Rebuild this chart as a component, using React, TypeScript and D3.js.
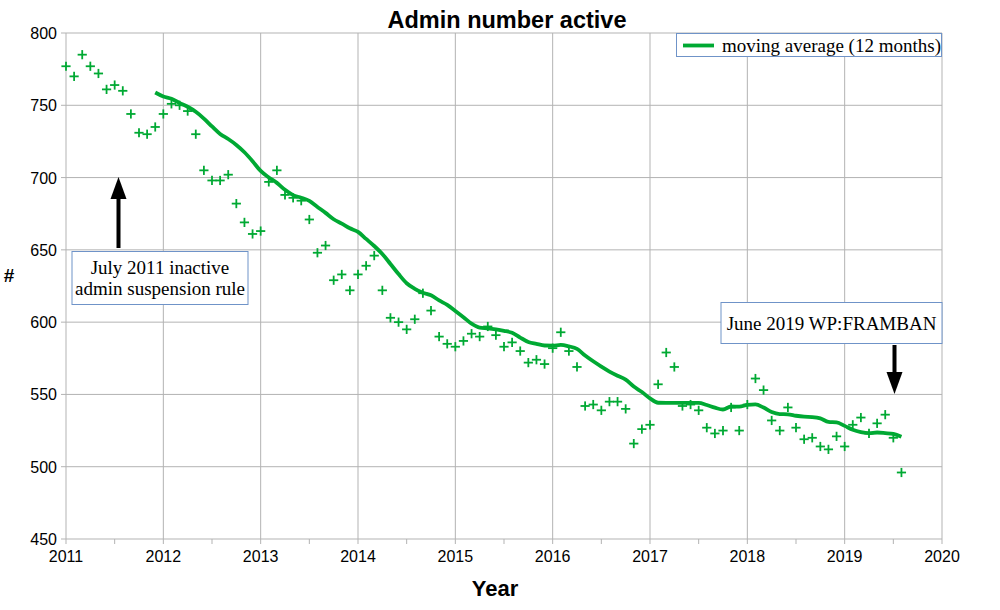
import React from "react";
import * as d3 from "d3";

const chartTitle = "Admin number active";
const xAxisTitle = "Year";
const yAxisTitle = "#";
const legendLabel = "moving average (12 months)";
const firstYear = 2011;
const xTickYears = [2011, 2012, 2013, 2014, 2015, 2016, 2017, 2018, 2019, 2020];
const yTickValues = [450, 500, 550, 600, 650, 700, 750, 800];
const movingWindow = 12;

// monthly active admin counts, Jan 2011 .. Aug 2019
const adminCounts = [
  777, 770, 785, 777, 772, 761, 764, 760, 744, 731, 730, 735,
  744, 751, 750, 746, 730, 705, 698, 698, 702, 682, 669, 661,
  663, 697, 705, 688, 686, 684, 671, 648, 653, 629, 633, 622,
  633, 639, 646, 622, 603, 600, 595, 602, 620, 608, 590, 585,
  583, 587, 592, 590, 597, 591, 583, 586, 580, 572, 574, 571,
  582, 593, 580, 569, 542, 543, 539, 545, 545, 540, 516, 526,
  529, 557, 579, 569, 542, 543, 539, 527, 523, 525, 541, 525,
  543, 561, 553, 532, 525, 541, 527, 519, 520, 514, 512, 521,
  514, 529, 534, 523, 530, 536, 520, 496,
];

const annotation1Lines = ["July 2011 inactive", "admin suspension rule"];
const annotation2Text = "June 2019 WP:FRAMBAN";

const GREEN = "#00a933";
const GRID = "#b3b3b3";
const BOX = "#6f93c8";

export default function App() {
  const W = 1000;
  const H = 610;
  const left = 66, right = 942, top = 33, bottom = 539;

  const x = d3.scaleLinear().domain([2011, 2020]).range([left, right]);
  const y = d3.scaleLinear().domain([450, 800]).range([bottom, top]);

  const points = adminCounts.map((v, i) => ({ t: firstYear + i / 12, v }));
  const avg = points
    .map((p, i) =>
      i >= movingWindow - 1
        ? { t: p.t, v: d3.mean(adminCounts.slice(i - movingWindow + 1, i + 1)) as number }
        : null
    )
    .filter((d): d is { t: number; v: number } => d !== null);

  const line = d3
    .line<{ t: number; v: number }>()
    .x((d) => x(d.t))
    .y((d) => y(d.v))
    .curve(d3.curveMonotoneX);

  const halfYears = d3.range(2011, 2020.01, 0.5);
  const arm = 4.6;

  const sans = "'Liberation Sans', Arial, sans-serif";
  const serif = "'Liberation Serif', 'Times New Roman', serif";

  // annotation arrows
  const a1x = 118.5;
  const a2x = 894.5;

  return (
    <svg
      width={W}
      height={H}
      style={{ position: "absolute", left: 0, top: 0, background: "#fff" }}
    >
      <rect x={0} y={0} width={W} height={H} fill="#fff" />
      {/* grid */}
      {yTickValues.map((v) => (
        <line key={"gy" + v} x1={left} x2={right} y1={y(v)} y2={y(v)} stroke={GRID} strokeWidth={1} />
      ))}
      {xTickYears.map((yr) => (
        <line key={"gx" + yr} x1={x(yr)} x2={x(yr)} y1={top} y2={bottom} stroke={GRID} strokeWidth={1} />
      ))}
      {/* axes ticks */}
      {yTickValues.map((v) => (
        <line key={"ty" + v} x1={left - 5} x2={left} y1={y(v)} y2={y(v)} stroke={GRID} strokeWidth={1} />
      ))}
      {halfYears.map((t) => (
        <line key={"tx" + t} x1={x(t)} x2={x(t)} y1={bottom} y2={bottom + 5} stroke={GRID} strokeWidth={1} />
      ))}
      {/* tick labels */}
      {yTickValues.map((v) => (
        <text key={"ly" + v} x={57} y={y(v) + 6} textAnchor="end" fontFamily={sans} fontSize={16} fill="#000">
          {v}
        </text>
      ))}
      {xTickYears.map((yr) => (
        <text key={"lx" + yr} x={x(yr)} y={562} textAnchor="middle" fontFamily={sans} fontSize={16} fill="#000">
          {yr}
        </text>
      ))}

      {/* data points */}
      {points.map((p, i) => (
        <g key={"p" + i} stroke={GREEN} strokeWidth={1.8}>
          <line x1={x(p.t) - arm} x2={x(p.t) + arm} y1={y(p.v)} y2={y(p.v)} />
          <line x1={x(p.t)} x2={x(p.t)} y1={y(p.v) - arm} y2={y(p.v) + arm} />
        </g>
      ))}
      {/* moving average */}
      <path d={line(avg) || ""} fill="none" stroke={GREEN} strokeWidth={3.8} strokeLinejoin="round" strokeLinecap="butt" />

      {/* annotation 1 */}
      <rect x={a1x - 2} y={198} width={4} height={50} fill="#000" />
      <path d={`M${a1x - 8},${199} L${a1x + 8},${199} L${a1x},${177} Z`} fill="#000" />
      <rect x={72} y={251.5} width={176} height={53} fill="#fff" stroke={BOX} strokeWidth={1} />
      {annotation1Lines.map((s, i) => (
        <text key={"a1" + i} x={160} y={273.5 + i * 21.5} textAnchor="middle" fontFamily={serif} fontSize={19} fill="#000">
          {s}
        </text>
      ))}

      {/* annotation 2 */}
      <rect x={721} y={302.5} width={221} height={41} fill="#fff" stroke={BOX} strokeWidth={1} />
      <text x={831.5} y={330} textAnchor="middle" fontFamily={serif} fontSize={19} fill="#000">
        {annotation2Text}
      </text>
      <rect x={a2x - 2} y={345} width={4} height={28} fill="#000" />
      <path d={`M${a2x - 8},${372} L${a2x + 8},${372} L${a2x},${394} Z`} fill="#000" />

      {/* legend */}
      <rect x={676.5} y={33.5} width={265} height={23} fill="#fff" stroke={BOX} strokeWidth={1} />
      <line x1={683} x2={714} y1={45.5} y2={45.5} stroke={GREEN} strokeWidth={3.8} />
      <text x={722} y={51.5} fontFamily={serif} fontSize={19} fill="#000">
        {legendLabel}
      </text>

      {/* titles */}
      <text x={507} y={28} textAnchor="middle" fontFamily={sans} fontWeight="bold" fontSize={23.5} fill="#000">
        {chartTitle}
      </text>
      <text x={495} y={596} textAnchor="middle" fontFamily={sans} fontWeight="bold" fontSize={22} fill="#000">
        {xAxisTitle}
      </text>
      <text x={9} y={282} textAnchor="middle" fontFamily={sans} fontWeight="bold" fontSize={19} fill="#000">
        {yAxisTitle}
      </text>
    </svg>
  );
}
